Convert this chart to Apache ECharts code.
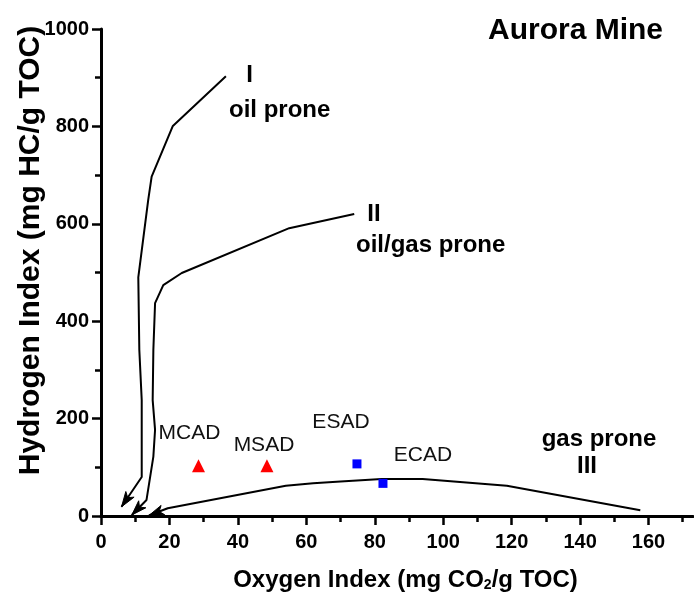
<!DOCTYPE html>
<html>
<head>
<meta charset="utf-8">
<script src="https://cdn.jsdelivr.net/npm/echarts@6/dist/echarts.min.js"></script>
<style>
  html, body { margin: 0; padding: 0; background: #fff; }
  #chart { width: 694px; height: 596px; }
</style>
</head>
<body>
<div id="chart"></div>
<script>
// Kerogen type boundary curves as [Oxygen Index, Hydrogen Index], each drawn toward the origin
const typeI = [[36.5, 903], [21.0, 801], [14.8, 697], [13.8, 649], [10.9, 490], [11.2, 341], [11.9, 238], [11.9, 80], [6.0, 19]];
const typeII = [[74, 620], [55, 591], [23.6, 499], [18.2, 474], [15.8, 437], [15.3, 341], [15.1, 238], [15.8, 177], [15.3, 122], [13.3, 33], [9.0, 2]];
const typeIII = [[157.6, 12], [118.6, 62], [94, 76], [82, 76], [70, 71], [62, 67], [54, 62], [19.5, 16], [14, 1]];

// Samples: M* = red triangles, E* = blue squares
const triNames = ['MCAD', 'MSAD'];
const triOI = [28.5, 48.5];
const triHI = [103, 103];
const sqNames = ['ESAD', 'ECAD'];
const sqOI = [74.8, 82.4];
const sqHI = [107, 67];

// Axis ticks
const xMajorTicks = [0, 20, 40, 60, 80, 100, 120, 140, 160];
const xMinorTicks = [10, 30, 50, 70, 90, 110, 130, 150, 170];

// Sample label placement (pixel offsets from the marker)
const labelOffsets = { MCAD: [-9, -33], MSAD: [-3, -21], ESAD: [-16, -42], ECAD: [40, -28] };

const FONT = "'Liberation Sans', Arial, sans-serif";

const chart = echarts.init(document.getElementById('chart'), null, { renderer: 'canvas' });

function sampleData(names, xs, ys) {
  return names.map((n, i) => ({
    name: n,
    value: [xs[i], ys[i]],
    label: { offset: labelOffsets[n] }
  }));
}

// arrowhead at the end of each boundary curve, oriented along its last segment
const arrowData = [typeI, typeII, typeIII].map(c => {
  const a = c[c.length - 2], b = c[c.length - 1];
  return [a[0], a[1], b[0], b[1]];
});

function renderArrow(params, api) {
  const a = api.coord([api.value(0), api.value(1)]);
  const b = api.coord([api.value(2), api.value(3)]);
  const dx = b[0] - a[0], dy = b[1] - a[1];
  const len = Math.hypot(dx, dy) || 1;
  const ux = dx / len, uy = dy / len;
  const px = -uy, py = ux;
  const L = 15, W = 5, N = 11;
  const bx = b[0] - ux * L, by = b[1] - uy * L;
  const nx = b[0] - ux * N, ny = b[1] - uy * N;
  return {
    type: 'polygon',
    shape: { points: [b, [bx + px * W, by + py * W], [nx, ny], [bx - px * W, by - py * W]] },
    style: { fill: '#000', stroke: '#000', lineWidth: 1 }
  };
}

const curveStyle = { color: '#000', width: 2 };
function curve(data) {
  return {
    type: 'line', data: data, showSymbol: false, symbol: 'none',
    lineStyle: curveStyle, silent: true, z: 2
  };
}

const tickLabel = {
  color: '#000', fontFamily: FONT, fontWeight: 'bold', fontSize: 20,
  formatter: v => String(v)
};
const axisLineStyle = { color: '#000', width: 3 };

function note(text, x, y, size, align) {
  return {
    type: 'text', x: x, y: y,
    style: {
      text: text, fill: '#000',
      font: 'bold ' + size + 'px ' + FONT,
      align: align || 'center', verticalAlign: 'middle'
    }
  };
}

chart.setOption({
  animation: false,
  backgroundColor: '#fff',
  title: {
    text: 'Aurora Mine',
    left: 483, top: 11,
    textStyle: { color: '#000', fontFamily: FONT, fontWeight: 'bold', fontSize: 30 }
  },
  grid: { left: 101, right: 1, top: 29, bottom: 80, containLabel: false, outerBoundsMode: 'none' },
  xAxis: [
    {
      type: 'value', min: 0, max: 173, position: 'bottom',
      axisLine: { show: true, lineStyle: axisLineStyle },
      axisTick: { show: true, inside: false, length: 9, lineStyle: { color: '#000', width: 2.5 }, customValues: xMajorTicks },
      axisLabel: Object.assign({ margin: 16, customValues: xMajorTicks }, tickLabel),
      splitLine: { show: false },
      name: 'Oxygen Index (mg CO{sub|2}/g TOC)',
      nameLocation: 'middle', nameGap: 52,
      nameTextStyle: {
        color: '#000', fontFamily: FONT, fontWeight: 'bold', fontSize: 24,
        padding: [0, 0, 0, 17],
        rich: { sub: { fontFamily: FONT, fontWeight: 'bold', fontSize: 14, verticalAlign: 'bottom', padding: [10, 0, 0, 0] } }
      }
    },
    {
      type: 'value', min: 0, max: 173, position: 'bottom',
      axisLine: { show: false },
      axisTick: { show: true, inside: false, length: 6, lineStyle: { color: '#000', width: 2.5 }, customValues: xMinorTicks },
      axisLabel: { show: false },
      splitLine: { show: false }
    }
  ],
  yAxis: {
    type: 'value', min: 0, max: 1000, interval: 200,
    axisLine: { show: true, lineStyle: axisLineStyle },
    axisTick: { show: true, inside: false, length: 9, lineStyle: { color: '#000', width: 2.5 } },
    minorTick: { show: true, splitNumber: 2, length: 6, lineStyle: { color: '#000', width: 2.5 } },
    axisLabel: Object.assign({ margin: 12 }, tickLabel),
    splitLine: { show: false },
    minorSplitLine: { show: false },
    name: 'Hydrogen Index (mg HC/g TOC)',
    nameLocation: 'middle', nameGap: 55, nameRotate: 90, nameMoveOverlap: false,
    nameTextStyle: {
      color: '#000', fontFamily: FONT, fontWeight: 'bold', fontSize: 30,
      padding: [0, 0, 0, 44]
    }
  },
  graphic: [
    note('I', 249.5, 75, 24),
    note('oil prone', 229, 110, 24, 'left'),
    note('II', 374, 214, 24),
    note('oil/gas prone', 356, 245, 24, 'left'),
    note('gas prone', 599, 439, 24),
    note('III', 587, 466, 24)
  ],
  series: [
    curve(typeI),
    curve(typeII),
    curve(typeIII),
    {
      type: 'custom', renderItem: renderArrow, data: arrowData,
      encode: { x: [0, 2], y: [1, 3] }, silent: true, z: 3
    },
    {
      type: 'scatter', symbol: 'triangle', symbolSize: 13,
      itemStyle: { color: '#ff0000', opacity: 1 },
      data: sampleData(triNames, triOI, triHI),
      label: { show: true, position: 'inside', formatter: '{b}', color: '#111', fontFamily: FONT, fontSize: 21 },
      z: 4
    },
    {
      type: 'scatter', symbol: 'rect', symbolSize: 9,
      itemStyle: { color: '#0000ff', opacity: 1 },
      data: sampleData(sqNames, sqOI, sqHI),
      label: { show: true, position: 'inside', formatter: '{b}', color: '#111', fontFamily: FONT, fontSize: 21 },
      z: 4
    }
  ]
});
</script>
</body>
</html>
